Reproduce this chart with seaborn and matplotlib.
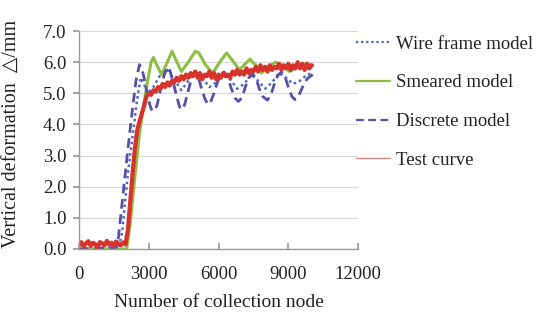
import numpy as np
import pandas as pd
import matplotlib
matplotlib.use("Agg")
import matplotlib.pyplot as plt
import seaborn as sns

# ---- data ----
test_x = list(range(0, 10001, 100))
test_y = [0.12, 0.22, 0.08, 0.18, 0.25, 0.10, 0.20, 0.15, 0.05, 0.22,
          0.18, 0.12, 0.26, 0.14, 0.20, 0.09, 0.24, 0.16, 0.12, 0.21,
          0.15, 0.60, 1.50, 2.40, 3.20, 3.80, 4.10, 4.35, 4.60, 4.90,
          5.00, 4.95, 5.10, 5.05, 5.20, 5.15, 5.30, 5.20, 5.35, 5.25,
          5.40, 5.35, 5.50, 5.40, 5.55, 5.45, 5.60, 5.50, 5.65, 5.55,
          5.70, 5.50, 5.65, 5.45, 5.60, 5.55, 5.70, 5.50, 5.65, 5.45,
          5.60, 5.50, 5.65, 5.55, 5.60, 5.50, 5.70, 5.60, 5.75, 5.60,
          5.70, 5.60, 5.80, 5.65, 5.75, 5.70, 5.85, 5.70, 5.90, 5.75,
          5.85, 5.70, 5.90, 5.75, 5.85, 5.80, 5.95, 5.75, 5.90, 5.80,
          5.95, 5.75, 5.90, 5.80, 6.00, 5.80, 5.95, 5.75, 5.95, 5.80,
          5.90]

disc_x = [0, 1600, 1700, 1900, 2100, 2300, 2450, 2600, 2700, 2800, 2900, 3000,
          3100, 3200, 3350, 3500, 3650, 3780, 3900, 4050, 4200, 4330, 4430,
          4550, 4700, 4850, 4970, 5100, 5250, 5400, 5530, 5650, 5800, 5950,
          6100, 6250, 6400, 6550, 6700, 6850, 7000, 7150, 7300, 7460, 7600,
          7750, 7900, 8100, 8250, 8400, 8550, 8700, 8850, 9000, 9150, 9280,
          9400, 9550, 9700, 9850, 10050]
disc_y = [0.0, 0.05, 0.4, 1.8, 3.2, 4.5, 5.4, 5.92, 5.8, 5.5, 5.1, 4.75,
          4.5, 4.42, 4.6, 5.1, 5.55, 5.84, 5.75, 5.35, 4.9, 4.55, 4.48,
          4.65, 5.1, 5.5, 5.7, 5.6, 5.2, 4.85, 4.65, 4.7, 5.0, 5.35,
          5.6, 5.68, 5.5, 5.15, 4.85, 4.74, 4.85, 5.2, 5.5, 5.62, 5.5,
          5.15, 4.9, 4.78, 4.95, 5.3, 5.58, 5.68, 5.55, 5.2, 4.9, 4.8,
          4.85, 5.1, 5.35, 5.5, 5.6]

wire_x = [0, 1700, 1850, 2100, 2300, 2500, 2650, 2800, 2950, 3200, 3500, 3800,
          4100, 4400, 4700, 5000, 5300, 5600, 5900, 6200, 6500, 6800, 7100,
          7400, 7700, 8000, 8300, 8600, 8900, 9200, 9500, 9800, 10050]
wire_y = [0.0, 0.05, 0.5, 2.4, 3.6, 4.8, 5.5, 5.3, 5.0, 5.2, 5.6, 5.75,
          5.45, 5.1, 5.4, 5.7, 5.5, 5.2, 5.35, 5.65, 5.45, 5.15, 5.3,
          5.6, 5.4, 5.15, 5.35, 5.65, 5.5, 5.3, 5.4, 5.6, 5.65]

smear_x = [0, 2050, 2200, 2400, 2600, 2800, 2950, 3100, 3200, 3350, 3550, 3800,
           4000, 4150, 4400, 4700, 5000, 5150, 5450, 5750, 6050, 6350, 6550,
           6900, 7150, 7350, 7600, 7850, 8150, 8450, 8750, 9050, 9400, 9750,
           10050]
smear_y = [0.0, 0.0, 0.8, 2.3, 3.7, 4.7, 5.4, 6.0, 6.15, 5.9, 5.6, 6.0,
           6.35, 6.1, 5.7, 6.0, 6.35, 6.3, 5.9, 5.65, 6.0, 6.3, 6.1,
           5.75, 5.95, 6.1, 5.9, 5.65, 5.85, 6.0, 5.9, 5.7, 5.85, 5.95,
           5.9]

labels = ["Wire frame model", "Smeared model", "Discrete model", "Test curve"]
x_ticks = [0, 3000, 6000, 9000, 12000]
y_ticks = [0.0, 1.0, 2.0, 3.0, 4.0, 5.0, 6.0, 7.0]

sns.set_theme(style="white")
plt.rcParams["font.family"] = ["Liberation Serif", "DejaVu Sans"]

fig = plt.figure(figsize=(5.41, 3.2), dpi=100)
ax = fig.add_axes([0.146, 0.222, 0.516, 0.681])

sns.lineplot(x=wire_x, y=wire_y, ax=ax, color="#4A67C0", lw=1.8,
             linestyle=(0, (1, 1.3)), label=labels[0], sort=False, estimator=None)
sns.lineplot(x=smear_x, y=smear_y, ax=ax, color="#8DBE43", lw=2.2,
             label=labels[1], sort=False, estimator=None)
sns.lineplot(x=disc_x, y=disc_y, ax=ax, color="#5950A3", lw=2.0,
             linestyle=(0, (3.5, 2)), label=labels[2], sort=False, estimator=None)
sns.lineplot(x=test_x, y=test_y, ax=ax, color="#D7332C", lw=3.0,
             label=labels[3], sort=False, estimator=None)

ax.set_xlim(0, 12000)
ax.set_ylim(0, 7.0)
ax.set_xticks(x_ticks)
ax.set_yticks(y_ticks)
ax.set_xticklabels([str(v) for v in x_ticks], fontsize=13.5)
ax.set_yticklabels([f"{v:.1f}" for v in y_ticks], fontsize=13.5)
ax.yaxis.grid(True, color="#D9D9D9", lw=0.9)
ax.xaxis.grid(False)
for s in ["top", "right"]:
    ax.spines[s].set_visible(False)
for s in ["left", "bottom"]:
    ax.spines[s].set_color("#9A9A9A")
    ax.spines[s].set_linewidth(1.0)
ax.tick_params(axis="x", direction="in", length=4, color="#9A9A9A", pad=12, colors="#222222")
ax.tick_params(axis="y", direction="out", length=4, color="#9A9A9A", pad=5, colors="#222222")
ax.tick_params(axis="both", which="both", left=True, bottom=True)
ax.set_xlabel("Number of collection node", fontsize=14, color="#222222", labelpad=8)
ax.set_ylabel("Vertical deformation  \u25b3/mm", fontsize=14.5, color="#222222", labelpad=6)
ax.yaxis.set_label_coords(-0.205, 0.53)

leg = ax.legend(loc="upper left", bbox_to_anchor=(0.645, 0.912),
                bbox_transform=fig.transFigure, frameon=False, fontsize=13.5,
                handlelength=1.8, handletextpad=0.3, labelspacing=1.15,
                borderaxespad=0)
for line in leg.get_lines():
    line.set_linewidth(1.6)
leg.get_lines()[3].set_linewidth(1.0)
leg.get_lines()[3].set_color("#C98A84")
for t in leg.get_texts():
    t.set_color("#222222")

fig.savefig("out.png", dpi=100)
